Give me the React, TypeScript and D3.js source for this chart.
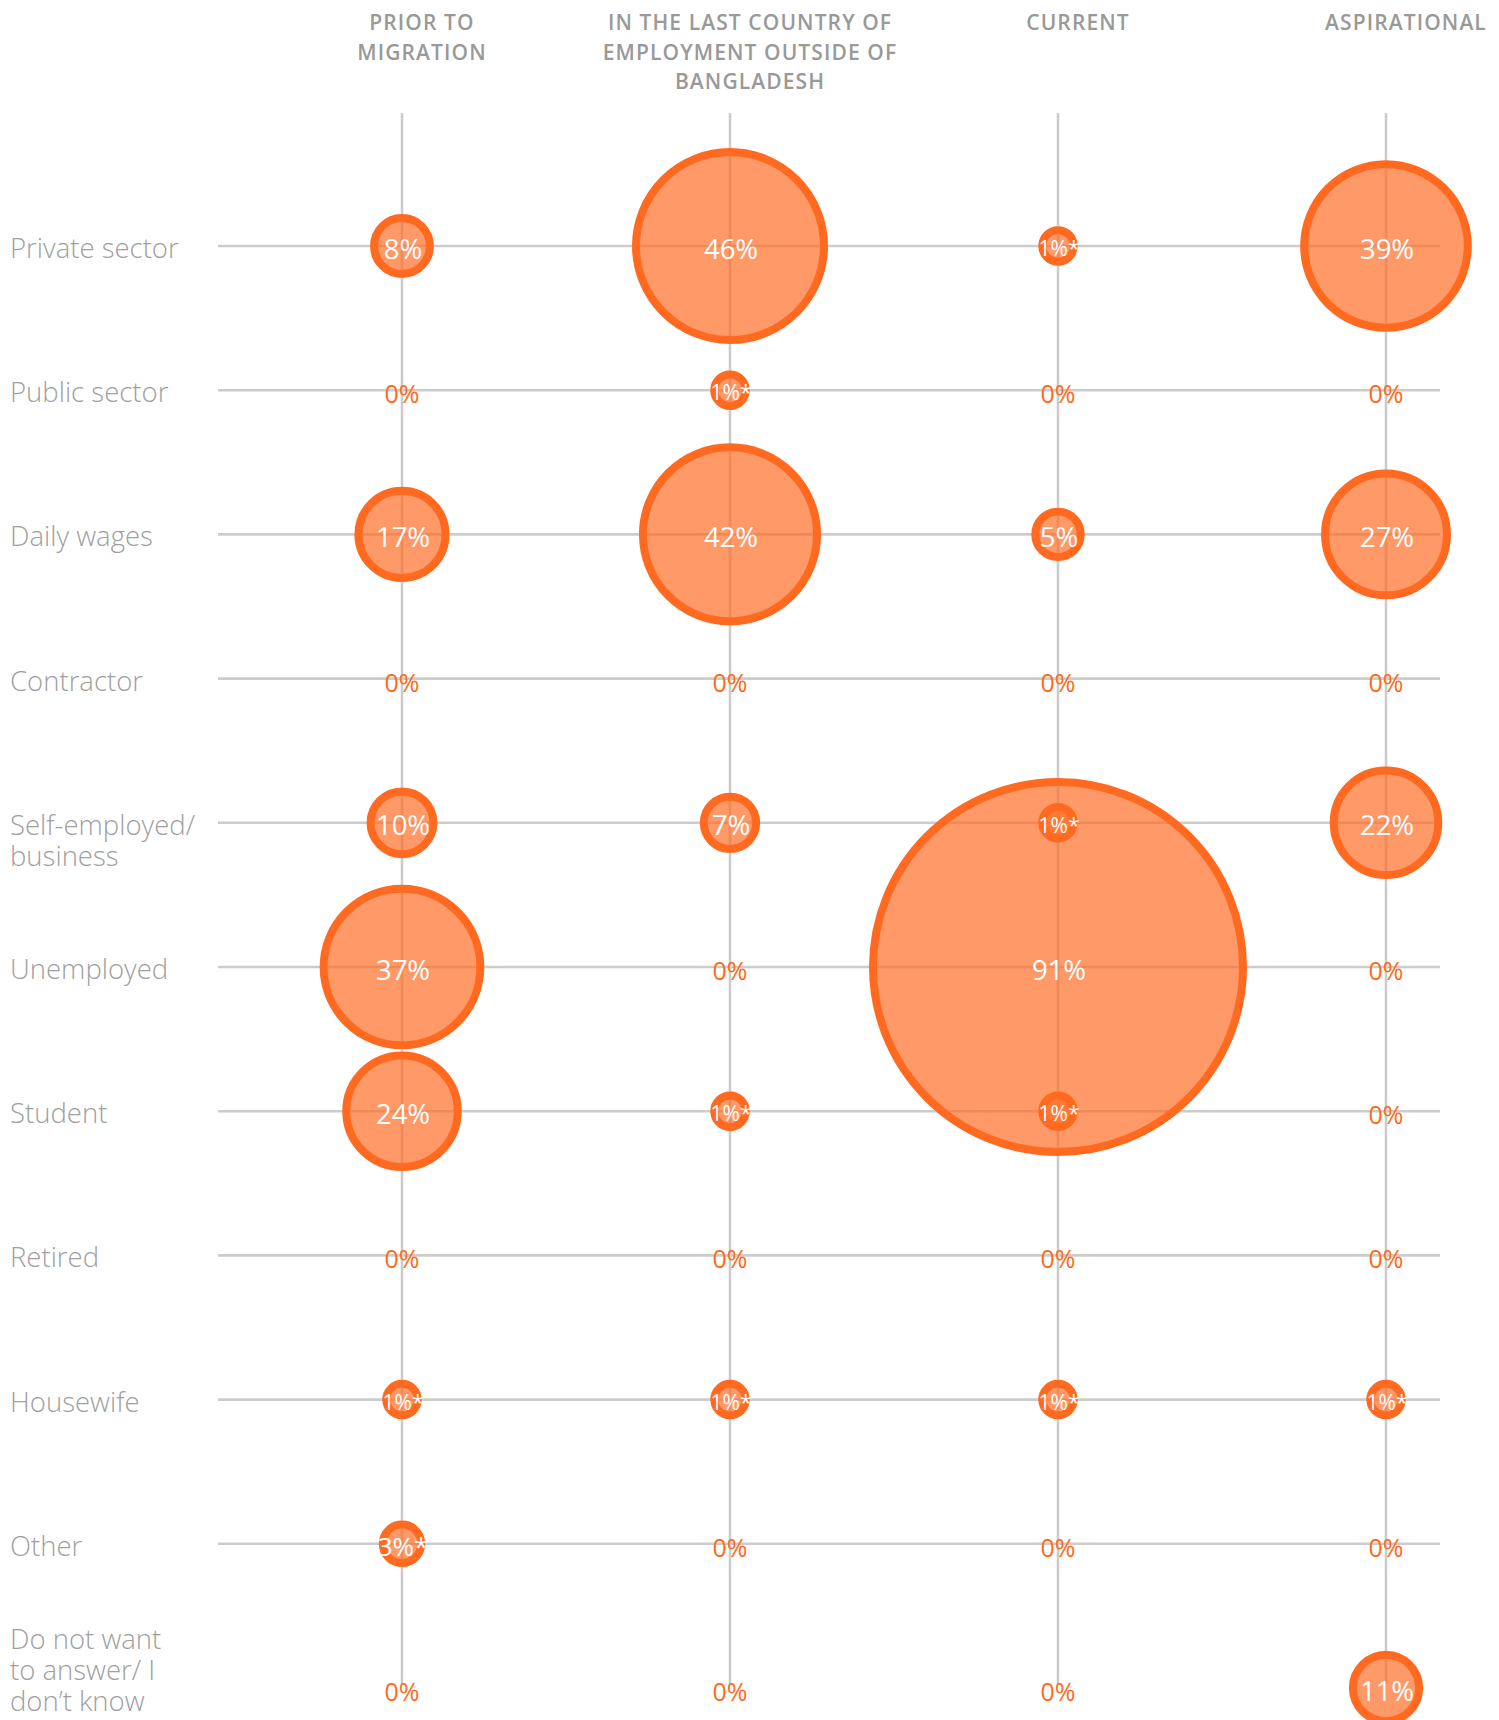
import React from "react";
import * as d3 from "d3";

// ---------- data ----------
const categories = [
  "Private sector",
  "Public sector",
  "Daily wages",
  "Contractor",
  "Self-employed/ business",
  "Unemployed",
  "Student",
  "Retired",
  "Housewife",
  "Other",
  "Do not want to answer/ I don’t know",
];
const categoryLines = [
  ["Private sector"],
  ["Public sector"],
  ["Daily wages"],
  ["Contractor"],
  ["Self-employed/", "business"],
  ["Unemployed"],
  ["Student"],
  ["Retired"],
  ["Housewife"],
  ["Other"],
  ["Do not want", "to answer/ I", "don’t know"],
];
const periods = ["Prior to migration", "In the last country", "Current", "Aspirational"];
const periodLines = [
  ["PRIOR TO", "MIGRATION"],
  ["IN THE LAST COUNTRY OF", "EMPLOYMENT OUTSIDE OF", "BANGLADESH"],
  ["CURRENT"],
  ["ASPIRATIONAL"],
];
const priorValues = [8, 0, 17, 0, 10, 37, 24, 0, 1, 3, 0];
const lastCountryValues = [46, 1, 42, 0, 7, 0, 1, 0, 1, 0, 0];
const currentValues = [1, 0, 5, 0, 1, 91, 1, 0, 1, 0, 0];
const aspirationalValues = [39, 0, 27, 0, 22, 0, 0, 0, 1, 0, 11];
// values marked with an asterisk
const priorFlags = [0, 0, 0, 0, 0, 0, 0, 0, 1, 1, 0];
const lastCountryFlags = [0, 1, 0, 0, 0, 0, 1, 0, 1, 0, 0];
const currentFlags = [1, 0, 0, 0, 1, 0, 1, 0, 1, 0, 0];
const aspirationalFlags = [0, 0, 0, 0, 0, 0, 0, 0, 1, 0, 0];

const seriesValues = [priorValues, lastCountryValues, currentValues, aspirationalValues];
const seriesFlags = [priorFlags, lastCountryFlags, currentFlags, aspirationalFlags];

// ---------- layout ----------
const W = 1499;
const H = 1720;
const ORANGE = "#ff6a20";
const GRID = "#cccccc";
const FONT = "'Open Sans', 'Noto Sans', sans-serif";
const STROKE = 8;
const LABEL_LH = 31;

export default function App() {
  const x = d3.scalePoint<string>().domain(periods).range([402, 1386]);
  const y = d3.scalePoint<string>().domain(categories).range([246, 1688]);
  const r = d3.scaleLinear().domain([0, 46, 91]).range([18, 98, 189]);

  const lastCat = categories[categories.length - 1];

  const bubbles: { cx: number; cy: number; v: number; flag: boolean }[] = [];
  const zeros: { cx: number; cy: number }[] = [];
  periods.forEach((p, pi) => {
    categories.forEach((c, ci) => {
      const v = seriesValues[pi][ci];
      const cx = x(p)!;
      const cy = y(c)!;
      if (v > 0) bubbles.push({ cx, cy, v, flag: !!seriesFlags[pi][ci] });
      else zeros.push({ cx, cy });
    });
  });
  bubbles.sort((a, b) => b.v - a.v);

  return (
    <svg
      width={W}
      height={H}
      style={{ position: "absolute", left: 0, top: 0, background: "#fff" }}
      fontFamily={FONT}
    >
      {/* headers */}
      {periods.map((p, pi) => (
        <text
          key={p}
          textAnchor="middle"
          fontSize={21}
          fontWeight={600}
          fill="#999999"
          letterSpacing={1.1}
        >
          {periodLines[pi].map((l, li) => (
            <tspan key={li} x={x(p)! + 20} y={30 + li * 29.5}>
              {l}
            </tspan>
          ))}
        </text>
      ))}

      {/* grid: horizontal */}
      {categories
        .filter((c) => c !== lastCat)
        .map((c) => (
          <line key={c} x1={218} x2={1440} y1={y(c)} y2={y(c)} stroke={GRID} strokeWidth={2.6} />
        ))}
      {/* grid: vertical */}
      {periods.map((p) => (
        <line key={p} x1={x(p)} x2={x(p)} y1={113} y2={y(lastCat)! - 4} stroke={GRID} strokeWidth={2.6} />
      ))}

      {/* row labels: first line aligned with the row, shifted up if it would leave the page */}
      {categories.map((c, ci) => {
        const lines = categoryLines[ci];
        const n = lines.length;
        const first = Math.min(y(c)! + 12, H - 9 - (n - 1) * LABEL_LH);
        return (
          <text key={c} fontSize={27.5} fontWeight={300} fill="#a0a0a0">
            {lines.map((l, li) => (
              <tspan key={li} x={10} y={first + li * LABEL_LH}>
                {l}
              </tspan>
            ))}
          </text>
        );
      })}

      {/* zero labels */}
      {zeros.map((z, i) => (
        <text
          key={i}
          x={z.cx}
          y={z.cy + 3}
          textAnchor="middle"
          dominantBaseline="central"
          fontSize={25}
          fontWeight={400}
          fill={ORANGE}
        >
          0%
        </text>
      ))}

      {/* bubbles */}
      {bubbles.map((b, i) => {
        const outer = r(b.v);
        const fs = b.v <= 1 ? 21 : b.v <= 3 ? 26 : 27.5;
        return (
          <g key={i}>
            <circle
              cx={b.cx}
              cy={b.cy}
              r={outer - STROKE / 2}
              fill={ORANGE}
              fillOpacity={0.68}
              stroke={ORANGE}
              strokeWidth={STROKE}
            />
            <text
              x={b.cx + 1}
              y={b.cy + 2}
              textAnchor="middle"
              dominantBaseline="central"
              fontSize={fs}
              fontWeight={400}
              fill="#ffffff"
            >
              {b.v + "%" + (b.flag ? "*" : "")}
            </text>
          </g>
        );
      })}
    </svg>
  );
}
